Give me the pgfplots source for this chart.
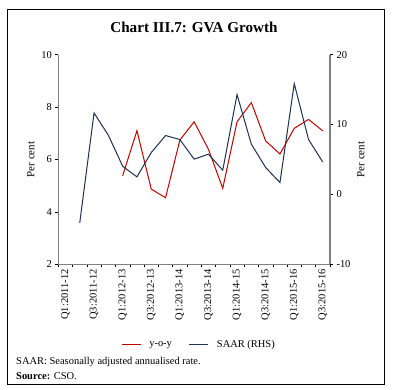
\documentclass[border=0pt]{standalone}
\usepackage{fontspec}
\setmainfont{Liberation Serif}
\usepackage{pgfplots}
\pgfplotsset{compat=1.18}
\definecolor{yoy}{HTML}{C00000}
\definecolor{saar}{HTML}{1F3050}
\definecolor{axgray}{HTML}{808080}
\begin{document}
\begin{tikzpicture}[x=1bp,y=1bp]
\useasboundingbox (0,0) rectangle (396,390);
\draw[black, line width=0.8bp] (7.3,6) rectangle (384.3,380.7);
\node[font=\bfseries\fontsize{15.2}{17}\selectfont] at (194,362.5) {Chart III.7: GVA Growth};
\begin{axis}[
  at={(58.3bp,125.7bp)}, anchor=south west,
  scale only axis, width=271.7bp, height=209.6bp,
  xmin=-0.5, xmax=18.5, ymin=2, ymax=10,
  axis y line*=left, axis x line*=bottom,
  axis line style={axgray, line width=1.1bp},
  x axis line style={axgray, line width=0.9bp},
  ytick={2,4,...,10},
  xtick={0,2,...,18},
  xticklabels={Q1:2011-12,Q3:2011-12,Q1:2012-13,Q3:2012-13,Q1:2013-14,Q3:2013-14,Q1:2014-15,Q3:2014-15,Q1:2015-16,Q3:2015-16},
  minor xtick={-0.5,0.5,...,18.5},
  major x tick style={draw=none},
  minor tick length=3bp, major tick length=3bp,
  tick align=outside,
  tick style={black, line width=0.5bp},
  xticklabel style={rotate=90, anchor=east, font=\fontsize{10.5}{12}\selectfont, inner sep=2bp},
  yticklabel style={font=\fontsize{10.5}{12}\selectfont},
  /pgf/number format/assume math mode=true,
  ylabel={Per cent}, ylabel style={font=\fontsize{11}{13}\selectfont},
  legend style={at={(0.518,-0.385)}, anchor=center, draw=none, legend columns=2, font=\fontsize{10.5}{12}\selectfont,
    /tikz/column sep=6bp, /tikz/every even column/.append style={column sep=15bp}},
  legend image code/.code={\draw[#1] (0bp,0bp) -- (19bp,0bp);},
]
\addplot[yoy, line width=1bp] coordinates {
(4,5.38) (5,7.10) (6,4.87) (7,4.54) (8,6.74) (9,7.44) (10,6.39) (11,4.90) (12,7.44) (13,8.17) (14,6.71) (15,6.21) (16,7.19) (17,7.53) (18,7.09)
};
\addlegendentry{y-o-y}
\addlegendimage{saar, line width=1bp}
\addlegendentry{SAAR (RHS)}
\end{axis}
\begin{axis}[
  at={(58.3bp,125.7bp)}, anchor=south west,
  scale only axis, width=271.7bp, height=209.6bp,
  xmin=-0.5, xmax=18.5, ymin=-10, ymax=20,
  axis y line*=right, axis x line=none,
  axis line style={axgray, line width=1.1bp},
  ytick={-10,0,10,20},
  major tick length=3bp, tick align=outside,
  tick style={black, line width=0.5bp},
  yticklabel style={font=\fontsize{10.5}{12}\selectfont},
  /pgf/number format/assume math mode=true,
  ylabel={Per cent}, ylabel style={font=\fontsize{11}{13}\selectfont},
]
\addplot[saar, line width=1bp] coordinates {
(1,-4.06) (2,11.66) (3,8.47) (4,4.04) (5,2.51) (6,6.0) (7,8.43) (8,7.86) (9,5.05) (10,5.76) (11,3.47) (12,14.29) (13,7.19) (14,3.86) (15,1.71) (16,15.86) (17,7.86) (18,4.62)
};
\end{axis}
\node[anchor=west, font=\fontsize{10.5}{12}\selectfont, inner sep=0] at (16,28) {SAAR: Seasonally adjusted annualised rate.};
\node[anchor=west, font=\fontsize{10.5}{12}\selectfont, inner sep=0] at (16,14) {\textbf{Source:} CSO.};
\end{tikzpicture}
\end{document}
